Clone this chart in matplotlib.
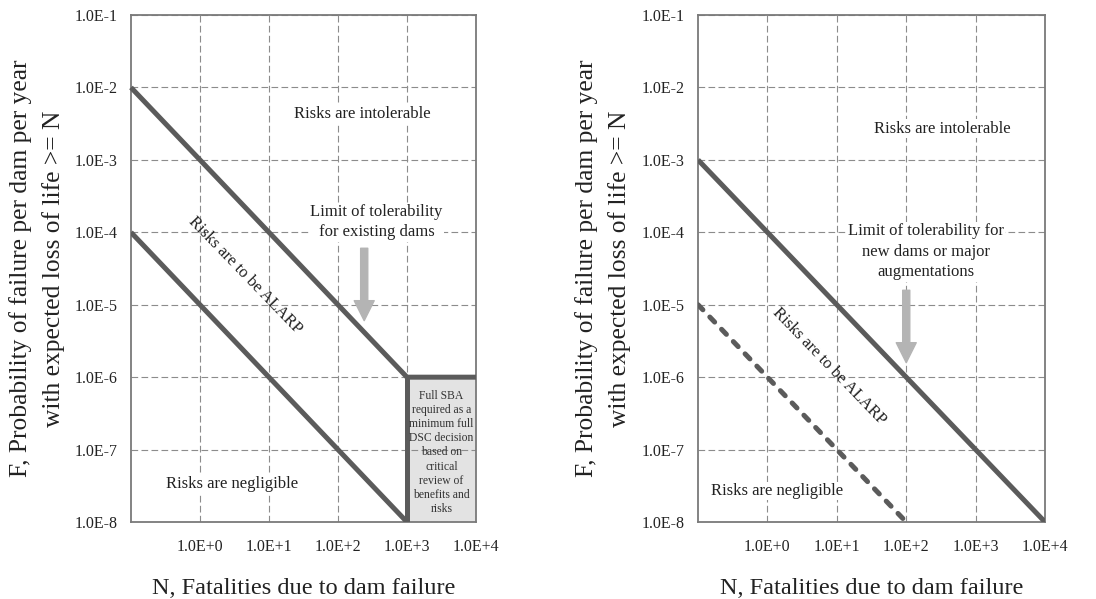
import numpy as np
import matplotlib
matplotlib.use("Agg")
import matplotlib.pyplot as plt

plt.rcParams['font.family'] = ['Liberation Serif', 'DejaVu Serif']

# decade ticks
xticks = [1e0, 1e1, 1e2, 1e3, 1e4]
xticklabels = ['1.0E+0', '1.0E+1', '1.0E+2', '1.0E+3', '1.0E+4']
yticks = [1e-8, 1e-7, 1e-6, 1e-5, 1e-4, 1e-3, 1e-2, 1e-1]
yticklabels = ['1.0E-8', '1.0E-7', '1.0E-6', '1.0E-5', '1.0E-4', '1.0E-3', '1.0E-2', '1.0E-1']

# existing dams
ex_limit_n = [0.1, 1e3, 1e4]
ex_limit_f = [1e-2, 1e-6, 1e-6]
ex_wall_n = [1e3, 1e3]
ex_wall_f = [1e-6, 1e-8]
ex_neg_n = [0.1, 1e3]
ex_neg_f = [1e-4, 1e-8]
ex_box_n = [1e3, 1e4]

# new dams / major augmentations
new_limit_n = [0.1, 1e4]
new_limit_f = [1e-3, 1e-8]
new_neg_n = [0.1, 100]
new_neg_f = [1e-5, 1e-8]

line_col = '#5b5b5b'
arrow_col = '#b4b4b4'
txt_col = '#222222'
lw = 3.6
arrow_style = 'simple,head_length=0.9,head_width=0.9,tail_width=0.32'

fig = plt.figure(figsize=(10.96, 5.99), dpi=100)
ax1 = fig.add_axes([0.1195, 0.1285, 0.3148, 0.8464])
ax2 = fig.add_axes([0.6369, 0.1285, 0.3166, 0.8464])


def setup(ax, ycenter_x):
    ax.set_xscale('log')
    ax.set_yscale('log')
    ax.set_xlim(0.1, 1e4)
    ax.set_ylim(1e-8, 1e-1)
    ax.set_xticks(xticks)
    ax.set_xticklabels(xticklabels, fontsize=11.5, color=txt_col)
    ax.set_yticks(yticks)
    ax.set_yticklabels(yticklabels, fontsize=11.5, color=txt_col)
    ax.minorticks_off()
    ax.tick_params(length=0, pad=9.5)
    ax.tick_params(axis='x', pad=12.5)
    ax.set_axisbelow(True)
    ax.grid(True, color='#8c8c8c', linewidth=0.8, linestyle=(0, (6, 3)))
    for s in ax.spines.values():
        s.set_color('#7a7a7a')
        s.set_linewidth(1.3)
    ax.set_xlabel('N, Fatalities due to dam failure', fontsize=17.5, labelpad=16, color=txt_col)
    fig.text(ycenter_x, 0.5516, 'F, Probability of failure per dam per year\nwith expected loss of life >= N',
             rotation=90, ha='center', va='center', fontsize=18.4, color=txt_col,
             multialignment='center', linespacing=1.56)


setup(ax1, 37 / 1096)
setup(ax2, 603 / 1096)

white = dict(facecolor='white', edgecolor='none', pad=1)

# left panel
ax1.fill_between(ex_box_n, 1e-8, 1e-6, color='#e3e3e3', zorder=0.4, linewidth=0)
ax1.plot(ex_limit_n, ex_limit_f, color=line_col, lw=lw, solid_capstyle='butt', clip_on=False, zorder=3)
ax1.plot(ex_wall_n, ex_wall_f, color=line_col, lw=lw, solid_capstyle='projecting', zorder=3)
ax1.plot(ex_neg_n, ex_neg_f, color=line_col, lw=lw, solid_capstyle='butt', zorder=3)

ax1.text(10**2.35, 10**-2.37, 'Risks are intolerable', fontsize=12, ha='center', va='center',
         color=txt_col, bbox=white)
ax1.text(10**2.56, 10**-3.86, 'Limit of tolerability\nfor existing dams', fontsize=12, ha='center',
         va='center', color=txt_col, bbox=white, linespacing=1.38)
ax1.text(10**0.65, 10**-4.59, 'Risks are to be ALARP', fontsize=12, ha='center', va='center',
         rotation=-46, color=txt_col, rotation_mode='anchor')
ax1.text(10**0.46, 10**-7.48, 'Risks are negligible', fontsize=12, ha='center', va='center',
         color=txt_col, bbox=white)
ax1.text(10**3.5, 10**-7.04, 'Full SBA\nrequired as a\nminimum full\nDSC decision\nbased on\ncritical\nreview of\nbenefits and\nrisks',
         fontsize=8.4, ha='center', va='center', color='#333333', linespacing=1.23)
ax1.annotate('', xy=(10**2.38, 10**-5.22), xytext=(10**2.38, 10**-4.22),
             arrowprops=dict(arrowstyle=arrow_style, color=arrow_col, shrinkA=0, shrinkB=0,
                             mutation_scale=16))

# right panel
ax2.plot(new_limit_n, new_limit_f, color=line_col, lw=lw, solid_capstyle='butt', zorder=3)
neg, = ax2.plot(new_neg_n, new_neg_f, color=line_col, lw=lw, dash_capstyle='round', zorder=3)
neg.set_dashes((1.4, 2.0))

ax2.text(10**2.52, 10**-2.57, 'Risks are intolerable', fontsize=12, ha='center', va='center',
         color=txt_col, bbox=white)
ax2.text(10**2.28, 10**-4.27, 'Limit of tolerability for\nnew dams or major\naugmentations', fontsize=12,
         ha='center', va='center', color=txt_col, bbox=white, linespacing=1.38)
ax2.text(10**0.89, 10**-5.85, 'Risks are to be ALARP', fontsize=12, ha='center', va='center',
         rotation=-46, color=txt_col, rotation_mode='anchor')
ax2.text(10**0.14, 10**-7.57, 'Risks are negligible', fontsize=12, ha='center', va='center',
         color=txt_col, bbox=white)
ax2.annotate('', xy=(10**2.0, 10**-5.8), xytext=(10**2.0, 10**-4.8),
             arrowprops=dict(arrowstyle=arrow_style, color=arrow_col, shrinkA=0, shrinkB=0,
                             mutation_scale=16))

fig.savefig('out.png', dpi=100)
